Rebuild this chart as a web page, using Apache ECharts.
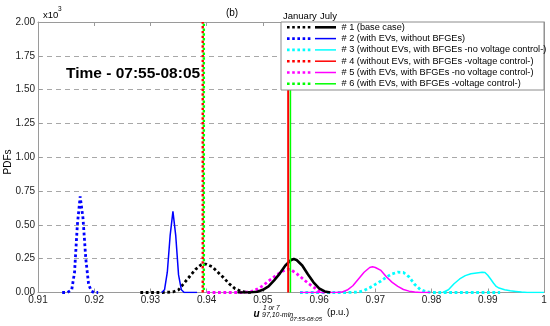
<!DOCTYPE html>
<html><head><meta charset="utf-8">
<script src="https://cdn.jsdelivr.net/npm/echarts@6/dist/echarts.min.js"></script>
<style>html,body{margin:0;padding:0;background:#fff}#c{width:550px;height:326px}</style>
</head><body><div id="c"></div>
<script>
// ---- data (PDF values in x10^3) ----
const xTicks = [0.91,0.92,0.93,0.94,0.95,0.96,0.97,0.98,0.99,1];
const yTicks = [0,0.25,0.5,0.75,1,1.25,1.5,1.75,2];
const legendLabels = [
  '# 1 (base case)',
  '# 2 (with EVs, without BFGEs)',
  '# 3 (without EVs, with BFGEs -no voltage control-)',
  '# 4 (without EVs, with BFGEs -voltage control-)',
  '# 5 (with EVs, with BFGEs -no voltage control-)',
  '# 6 (with EVs, with BFGEs -voltage control-)'
];
const case1Jan = [[0.9282,0],[0.932,0],[0.934,0.004],[0.935,0.02],[0.936,0.07],[0.937,0.12],[0.938,0.17],[0.939,0.205],[0.9395,0.212],[0.940,0.208],[0.941,0.19],[0.942,0.15],[0.943,0.11],[0.944,0.065],[0.945,0.03],[0.946,0.01],[0.947,0.002],[0.948,0]];
const case1Jul = [[0.9455,0],[0.948,0.002],[0.949,0.006],[0.950,0.02],[0.951,0.045],[0.952,0.09],[0.953,0.14],[0.954,0.2],[0.955,0.24],[0.9555,0.248],[0.956,0.24],[0.957,0.2],[0.958,0.135],[0.959,0.075],[0.960,0.03],[0.961,0.008],[0.962,0]];
const case2Jan = [[0.9143,0],[0.9152,0],[0.916,0.02],[0.9165,0.15],[0.917,0.5],[0.9175,0.71],[0.918,0.55],[0.9185,0.25],[0.919,0.06],[0.9195,0.01],[0.920,0],[0.9207,0]];
const case2Jul = [[0.932,0],[0.9325,0.02],[0.933,0.15],[0.9335,0.42],[0.934,0.6],[0.9345,0.42],[0.935,0.13],[0.9355,0.02],[0.936,0],[0.9383,0]];
const case3Jan = [[0.9566,0],[0.965,0],[0.967,0.003],[0.968,0.015],[0.969,0.035],[0.970,0.06],[0.971,0.085],[0.972,0.115],[0.973,0.138],[0.974,0.15],[0.975,0.148],[0.976,0.115],[0.977,0.06],[0.978,0.022],[0.979,0.006],[0.980,0],[0.9922,0]];
const case3Jul = [[0.982,0],[0.983,0.02],[0.984,0.065],[0.985,0.1],[0.986,0.125],[0.987,0.138],[0.988,0.145],[0.989,0.15],[0.9895,0.148],[0.990,0.128],[0.9905,0.1],[0.991,0.07],[0.9915,0.045],[0.992,0.033],[0.993,0.02],[0.994,0.013],[0.995,0.008],[0.996,0.003],[0.997,0],[1.0,0]];
const case5Jan = [[0.9401,0],[0.946,0],[0.947,0.003],[0.948,0.008],[0.949,0.025],[0.950,0.05],[0.951,0.085],[0.952,0.115],[0.953,0.145],[0.954,0.168],[0.9545,0.172],[0.955,0.168],[0.956,0.14],[0.957,0.105],[0.958,0.07],[0.959,0.04],[0.960,0.01],[0.961,0]];
const case5Jul = [[0.9566,0],[0.963,0],[0.964,0.003],[0.965,0.018],[0.966,0.05],[0.967,0.1],[0.968,0.15],[0.969,0.185],[0.9695,0.19],[0.970,0.185],[0.971,0.163],[0.972,0.115],[0.973,0.075],[0.974,0.045],[0.975,0.022],[0.976,0.01],[0.977,0.004],[0.978,0],[0.9797,0]];
// voltage-control cases: degenerate (vertical) PDFs
const case4JanX = 0.9393, case6JanX = 0.9395;
const case4JulX = 0.9545, case6JulX = 0.9549;
const vTop = 2;

const colors = ['#000000','#0000ff','#00ffff','#ff0000','#ff00ff','#00ff00'];
const FONT = '"Liberation Sans", Arial, sans-serif';

const dotStyle = (c) => ({color:c, width:2.8, type:[2.8,2.6], cap:'butt'});
const solidStyle = (c, w) => ({color:c, width:w||1.5});
function line(name, data, ls, z){
  return {name, type:'line', data, showSymbol:false, symbol:'none', smooth:false,
    lineStyle:ls, z:z||2, silent:true, animation:false};
}
const series = [
  line('1J', case1Jan, dotStyle(colors[0])),
  line('2J', case2Jan, dotStyle(colors[1])),
  line('3J', case3Jan, dotStyle(colors[2])),
  line('5J', case5Jan, dotStyle(colors[4])),
  line('2U', case2Jul, solidStyle(colors[1])),
  line('3U', case3Jul, solidStyle(colors[2])),
  line('5U', case5Jul, solidStyle(colors[4])),
  line('1U', case1Jul, solidStyle(colors[0], 2.6)),
  line('4J', [[case4JanX,0],[case4JanX,vTop]], {color:colors[3], width:2.4, type:[2.4,2.4], cap:'butt'}, 3),
  line('6J', [[case6JanX,0],[case6JanX,vTop]], {color:colors[5], width:2.4, type:[2.4,2.4], dashOffset:2.4, cap:'butt'}, 3),
  line('4U', [[case4JulX,0],[case4JulX,vTop]], solidStyle(colors[3], 2), 3),
  line('6U', [[case6JulX,0],[case6JulX,vTop]], solidStyle(colors[5], 1.5), 3)
];

// legend graphic
const lg = [];
const lx = 281, ly = 22, lw = 263, lh = 68, rowH = 11.3, row0 = 27.3;
lg.push({type:'rect', shape:{x:lx, y:ly, width:lw, height:lh}, style:{fill:'#fff', stroke:'#8c8c8c', lineWidth:1}, zlevel:1, z:10});
lg.push({type:'text', x:283, y:16.5, style:{text:'January', font:'9.5px '+FONT, fill:'#000', verticalAlign:'middle'}, zlevel:1, z:11});
lg.push({type:'text', x:320, y:16.5, style:{text:'July', font:'9.5px '+FONT, fill:'#000', verticalAlign:'middle'}, zlevel:1, z:11});
legendLabels.forEach((t,i)=>{
  const y = row0 + i*rowH;
  lg.push({type:'line', shape:{x1:287, y1:y, x2:311, y2:y}, style:{stroke:colors[i], lineWidth:2.6, lineDash:[2.6,2.6]}, zlevel:1, z:11});
  lg.push({type:'line', shape:{x1:315, y1:y, x2:336, y2:y}, style:{stroke:colors[i], lineWidth:i===0?2.6:1.5}, zlevel:1, z:11});
  lg.push({type:'text', x:341.5, y:y, style:{text:t, font:'9.2px '+FONT, fill:'#000', verticalAlign:'middle'}, zlevel:1, z:11});
});

const texts = [
  {type:'text', x:43, y:15.5, style:{text:'x10', font:'9.5px '+FONT, fill:'#000', verticalAlign:'middle'}},
  {type:'text', x:58, y:9.5, style:{text:'3', font:'6.5px '+FONT, fill:'#000', verticalAlign:'middle'}},
  {type:'text', x:232, y:13.5, style:{text:'(b)', font:'10px '+FONT, fill:'#000', align:'center', verticalAlign:'middle'}},
  {type:'text', x:66, y:74, style:{text:'Time - 07:55-08:05', font:'bold 15.5px '+FONT, fill:'#000', verticalAlign:'middle'}, zlevel:1, z:12},
  {type:'text', x:8, y:162, rotation:Math.PI/2, style:{text:'PDFs', font:'10px '+FONT, fill:'#000', align:'center', verticalAlign:'middle'}},
  {type:'text', x:263, y:308.5, style:{text:'1 or 7', font:'italic 6.5px '+FONT, fill:'#000', verticalAlign:'middle'}},
  {type:'text', x:253.5, y:314, style:{text:'u', font:'italic bold 10px '+FONT, fill:'#000', verticalAlign:'middle'}},
  {type:'text', x:262, y:315.5, style:{text:'97,10-min', font:'italic 7px '+FONT, fill:'#000', verticalAlign:'middle'}},
  {type:'text', x:290, y:319.5, style:{text:'07:55-08:05', font:'italic 6px '+FONT, fill:'#000', verticalAlign:'middle'}},
  {type:'text', x:327, y:312, style:{text:'(p.u.)', font:'9.5px '+FONT, fill:'#000', verticalAlign:'middle'}}
];

const axisCol = '#9a9a9a';
const fmtX = v => String(Math.round(v*100)/100);
const option = {
  animation:false,
  backgroundColor:'#fff',
  grid:{left:38, right:6, top:22, bottom:33.5},
  xAxis:[{
    type:'value', min:xTicks[0], max:xTicks[xTicks.length-1], interval:0.01,
    axisLine:{show:true, onZero:false, lineStyle:{color:axisCol}},
    axisTick:{show:true, inside:true, length:4, lineStyle:{color:axisCol}},
    axisLabel:{formatter:fmtX, color:'#222', fontSize:10, fontFamily:FONT, margin:3},
    splitLine:{show:false}
  },{
    type:'value', position:'top', min:xTicks[0], max:xTicks[xTicks.length-1], interval:0.01,
    axisLine:{show:true, onZero:false, lineStyle:{color:axisCol}},
    axisTick:{show:true, inside:true, length:4, lineStyle:{color:axisCol}},
    axisLabel:{show:false}, splitLine:{show:false}
  }],
  yAxis:[{
    type:'value', min:yTicks[0], max:yTicks[yTicks.length-1], interval:0.25,
    axisLine:{show:true, onZero:false, lineStyle:{color:axisCol}},
    axisTick:{show:true, inside:true, length:4, lineStyle:{color:axisCol}},
    axisLabel:{formatter:v=>v.toFixed(2), color:'#222', fontSize:10, fontFamily:FONT, margin:3},
    splitLine:{show:true, lineStyle:{color:'#a8a8a8', type:[5,4], width:1}}
  },{
    type:'value', position:'right', min:yTicks[0], max:yTicks[yTicks.length-1], interval:0.25,
    axisLine:{show:true, onZero:false, lineStyle:{color:axisCol}},
    axisTick:{show:true, inside:true, length:4, lineStyle:{color:axisCol}},
    axisLabel:{show:false}, splitLine:{show:false}
  }],
  series: series,
  graphic: texts.concat(lg)
};
const chart = echarts.init(document.getElementById('c'), null, {renderer:'canvas'});
chart.setOption(option);
</script></body></html>
